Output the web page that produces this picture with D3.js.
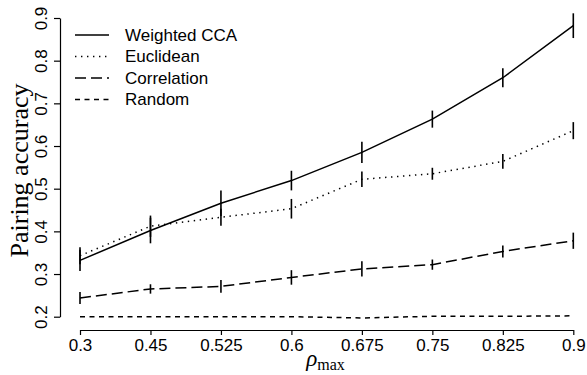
<!DOCTYPE html>
<html>
<head>
<meta charset="utf-8">
<script src="https://cdn.jsdelivr.net/npm/d3@7"></script>
<style>
  body { margin: 0; background: #fff; }
  svg { display: block; }
</style>
</head>
<body>
<div id="chart"></div>
<script>
// x categories (rho_max), plotted at equal spacing
var xTickLabels = ["0.3", "0.45", "0.525", "0.6", "0.675", "0.75", "0.825", "0.9"];
var yTicks = [0.2, 0.3, 0.4, 0.5, 0.6, 0.7, 0.8, 0.9];

// series means and half-widths of the error bars
var weightedCCA    = [0.332, 0.402, 0.466, 0.519, 0.585, 0.663, 0.760, 0.882];
var weightedCCAErr = [0.025, 0.030, 0.030, 0.023, 0.025, 0.020, 0.022, 0.029];
var euclidean      = [0.343, 0.412, 0.433, 0.453, 0.522, 0.535, 0.564, 0.636];
var euclideanErr   = [0.020, 0.025, 0.020, 0.023, 0.018, 0.014, 0.017, 0.020];
var correlation    = [0.244, 0.265, 0.271, 0.292, 0.312, 0.322, 0.353, 0.378];
var correlationErr = [0.014, 0.011, 0.015, 0.017, 0.018, 0.012, 0.014, 0.019];
var random         = [0.200, 0.200, 0.200, 0.200, 0.197, 0.201, 0.201, 0.202];
var randomErr      = [0, 0, 0, 0, 0, 0, 0, 0];

var seriesNames = ["Weighted CCA", "Euclidean", "Correlation", "Random"];

var width = 587, height = 375;
var sans = "'Liberation Sans', Arial, Helvetica, sans-serif";
var serif = "'Liberation Serif', 'Times New Roman', serif";

var series = [
  {name: seriesNames[0], vals: weightedCCA, err: weightedCCAErr, dash: null},
  {name: seriesNames[1], vals: euclidean,   err: euclideanErr,   dash: "1.4,4.6"},
  {name: seriesNames[2], vals: correlation, err: correlationErr, dash: "11,5"},
  {name: seriesNames[3], vals: random,      err: randomErr,      dash: "5,4.5"}
];

var svg = d3.select("#chart").append("svg")
    .attr("width", width).attr("height", height);

var x = d3.scalePoint().domain(xTickLabels).range([80, 573.3]);
var y = d3.scaleLinear().domain([0.2, 0.9]).range([316.7, 18]);

// x axis (sits below the plot, R style)
var xAxis = svg.append("g")
    .attr("transform", "translate(0,330)")
    .call(d3.axisBottom(x).tickSizeInner(5).tickSizeOuter(0).tickPadding(3.5));
xAxis.selectAll("text").attr("font-family", sans).attr("font-size", 17).attr("fill", "#000");

// y axis with rotated labels
var yAxis = svg.append("g")
    .attr("transform", "translate(60,0)")
    .call(d3.axisLeft(y).tickValues(yTicks).tickFormat(d3.format(".1f"))
      .tickSizeInner(6).tickSizeOuter(0));
yAxis.selectAll("text")
    .attr("x", 0).attr("dy", 0)
    .attr("text-anchor", "middle")
    .attr("transform", "translate(-13,0) rotate(-90)")
    .attr("font-family", sans).attr("font-size", 17).attr("fill", "#000");
svg.selectAll(".domain, .tick line").attr("stroke", "#000").attr("stroke-width", 1.2);

// axis titles
svg.append("text")
    .attr("transform", "translate(28,170.5) rotate(-90)")
    .attr("text-anchor", "middle")
    .attr("font-family", serif).attr("font-size", 26)
    .text("Pairing accuracy");

var xl = svg.append("text")
    .attr("x", 325.5).attr("y", 366)
    .attr("text-anchor", "middle")
    .attr("font-family", serif);
xl.append("tspan").attr("font-size", 23).attr("font-style", "italic").text("ρ");
xl.append("tspan").attr("font-size", 16).attr("dy", 4).text("max");

// lines
var line = d3.line()
    .x(function(d, i) { return x(xTickLabels[i]); })
    .y(function(d) { return y(d); });

series.forEach(function(s) {
  svg.append("path")
      .attr("d", line(s.vals))
      .attr("fill", "none")
      .attr("stroke", "#000")
      .attr("stroke-width", 1.5)
      .attr("stroke-dasharray", s.dash);

  // error bars: plain vertical segments
  svg.append("g").selectAll("line")
      .data(s.vals.map(function(v, i) { return {k: xTickLabels[i], v: v, e: s.err[i]}; })
        .filter(function(d) { return d.e > 0; }))
      .enter().append("line")
      .attr("x1", function(d) { return x(d.k); })
      .attr("x2", function(d) { return x(d.k); })
      .attr("y1", function(d) { return y(d.v - d.e); })
      .attr("y2", function(d) { return y(d.v + d.e); })
      .attr("stroke", "#000")
      .attr("stroke-width", 1.6);
});

// legend
var legend = svg.append("g").selectAll("g")
    .data(series)
    .enter().append("g")
    .attr("transform", function(d, i) { return "translate(0," + (35 + i * 21.5) + ")"; });

legend.append("line")
    .attr("x1", 75).attr("x2", 109)
    .attr("stroke", "#000").attr("stroke-width", 1.5)
    .attr("stroke-dasharray", function(d) { return d.dash; });

legend.append("text")
    .attr("x", 125).attr("dy", "0.35em")
    .attr("font-family", sans).attr("font-size", 17)
    .text(function(d) { return d.name; });
</script>
</body>
</html>
